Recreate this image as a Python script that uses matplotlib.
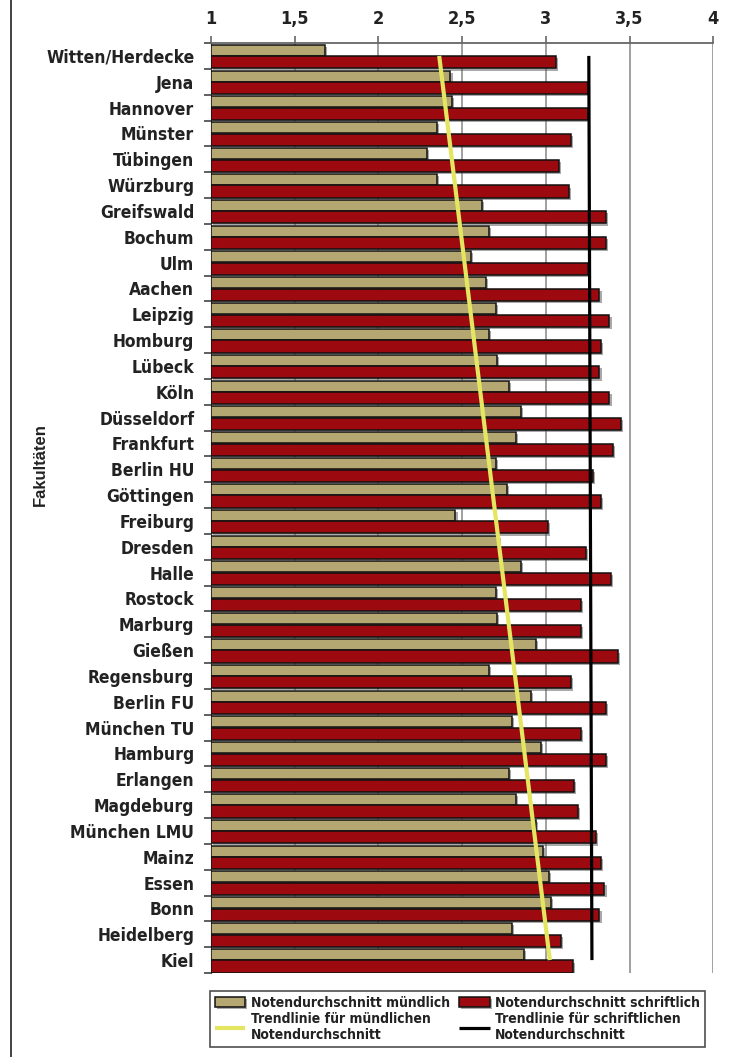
import numpy as np
import matplotlib.pyplot as plt
import matplotlib.patheffects as pe
from matplotlib import font_manager as fm
from matplotlib.lines import Line2D

# data
faculties = [
    "Witten/Herdecke", "Jena", "Hannover", "Münster", "Tübingen", "Würzburg",
    "Greifswald", "Bochum", "Ulm", "Aachen", "Leipzig", "Homburg", "Lübeck",
    "Köln", "Düsseldorf", "Frankfurt", "Berlin HU", "Göttingen", "Freiburg",
    "Dresden", "Halle", "Rostock", "Marburg", "Gießen", "Regensburg",
    "Berlin FU", "München TU", "Hamburg", "Erlangen", "Magdeburg",
    "München LMU", "Mainz", "Essen", "Bonn", "Heidelberg", "Kiel",
]
oral = [
    1.68, 2.43, 2.44, 2.35, 2.29, 2.35, 2.62, 2.66, 2.55, 2.64, 2.70, 2.66,
    2.71, 2.78, 2.85, 2.82, 2.70, 2.77, 2.46, 2.72, 2.85, 2.70, 2.71, 2.94,
    2.66, 2.91, 2.80, 2.97, 2.78, 2.82, 2.94, 2.98, 3.02, 3.03, 2.80, 2.87,
]
written = [
    3.06, 3.25, 3.25, 3.15, 3.08, 3.14, 3.36, 3.36, 3.25, 3.32, 3.38, 3.33,
    3.32, 3.38, 3.45, 3.40, 3.28, 3.33, 3.01, 3.24, 3.39, 3.21, 3.21, 3.43,
    3.15, 3.36, 3.21, 3.36, 3.17, 3.19, 3.30, 3.33, 3.35, 3.32, 3.09, 3.16,
]
x_ticks = [1, 1.5, 2, 2.5, 3, 3.5, 4]
x_ticklabels = ["1", "1,5", "2", "2,5", "3", "3,5", "4"]

TAN = "#b4a772"
RED = "#9c0a10"
YELLOW = "#e4e662"


def condensed_font():
    # look for any installed narrow / condensed face, bold preferred
    found = []
    for f in fm.fontManager.ttflist:
        st = f.stretch
        narrow = (st in ("condensed", "semi-condensed", "extra-condensed", "ultra-condensed")
                  if isinstance(st, str) else st < 500)
        if narrow or "Narrow" in f.name or "Condensed" in f.name:
            found.append(f)
    if not found:
        return None
    found.sort(key=lambda f: 0 if str(f.weight) in ("bold", "700") else 1)
    return found[0]


cf = condensed_font()
if cf is not None:
    LBL = dict(family=[cf.name, "DejaVu Sans"], stretch=cf.stretch, weight="bold")
    lbl_size, leg_size = 12.5, 10
else:
    LBL = dict(family=["Liberation Sans", "DejaVu Sans"], weight="bold")
    lbl_size, leg_size = 12, 9.5

fig = plt.figure(figsize=(7.32, 10.57), dpi=100)
ax = fig.add_axes([211 / 732, 1 - 973 / 1057, (713.3 - 211) / 732, (973 - 43) / 1057])

y = np.arange(len(faculties))
shadow = [pe.SimplePatchShadow(offset=(1.5, -1.5), shadow_rgbFace="#555555", alpha=0.5), pe.Normal()]

b1 = ax.barh(y - 0.22, np.array(oral) - 1, left=1, height=0.43, color=TAN,
             edgecolor="#111111", linewidth=1.1, zorder=3)
b2 = ax.barh(y + 0.25, np.array(written) - 1, left=1, height=0.47, color=RED,
             edgecolor="#111111", linewidth=1.1, zorder=3)
for p in list(b1) + list(b2):
    p.set_path_effects(shadow)

# linear trend lines
k1, d1 = np.polyfit(y, oral, 1)
k2, d2 = np.polyfit(y, written, 1)
ends = np.array([y[0], y[-1]])
l1, = ax.plot(k1 * ends + d1, ends, color=YELLOW, lw=3, zorder=5, solid_capstyle="butt")
l2, = ax.plot(k2 * ends + d2, ends, color="black", lw=2.3, zorder=4, solid_capstyle="butt")

ax.set_xlim(1, 4)
ax.set_ylim(len(faculties) - 0.5, -0.5)

ax.xaxis.tick_top()
ax.set_xticks(x_ticks)
ax.set_xticklabels(x_ticklabels, fontsize=lbl_size + 0.5, color="#222222", **LBL)
ax.tick_params(axis="x", direction="out", length=5, width=1.2, color="#666666", pad=6)
ax.grid(axis="x", color="#999999", lw=1.3, zorder=0)

ax.set_yticks(np.arange(len(faculties) + 1) - 0.5)
ax.set_yticklabels([])
ax.set_yticks(y, minor=True)
ax.set_yticklabels(faculties, minor=True, fontsize=lbl_size, color="#222222", **LBL)
ax.tick_params(axis="y", which="major", direction="out", length=5, width=1.2, color="#444444")
ax.tick_params(axis="y", which="minor", length=0, pad=12)

for s in ["right", "bottom"]:
    ax.spines[s].set_visible(False)
ax.spines["top"].set_color("#666666")
ax.spines["top"].set_linewidth(1.3)
ax.spines["left"].set_color("#444444")

fig.text(40 / 732, 1 - 465 / 1057, "Fakultäten", rotation=90, ha="center", va="center",
         fontsize=12, fontweight="bold", family=["Liberation Sans", "DejaVu Sans"], color="#222222")

# left frame line
fig.add_artist(Line2D([11 / 732, 11 / 732], [0, 1], color="#222222", lw=1.2))

leg = fig.legend(
    [b1, l1, b2, l2],
    ["Notendurchschnitt mündlich", "Trendlinie für mündlichen\nNotendurchschnitt",
     "Notendurchschnitt schriftlich", "Trendlinie für schriftlichen\nNotendurchschnitt"],
    ncol=2, loc="upper left", mode="expand",
    bbox_to_anchor=(203 / 732, 1 - 1048 / 1057, (712 - 203) / 732, (1048 - 984) / 1057),
    prop=dict(size=leg_size, **LBL),
    frameon=True, fancybox=False, edgecolor="#222222", borderpad=0.35,
    handlelength=2.2, handleheight=0.7, handletextpad=0.4, labelspacing=0.15,
    columnspacing=1.2,
)
leg.get_frame().set_linewidth(1.2)
for t in leg.get_texts():
    t.set_color("#222222")

fig.savefig("out.png", dpi=100)
